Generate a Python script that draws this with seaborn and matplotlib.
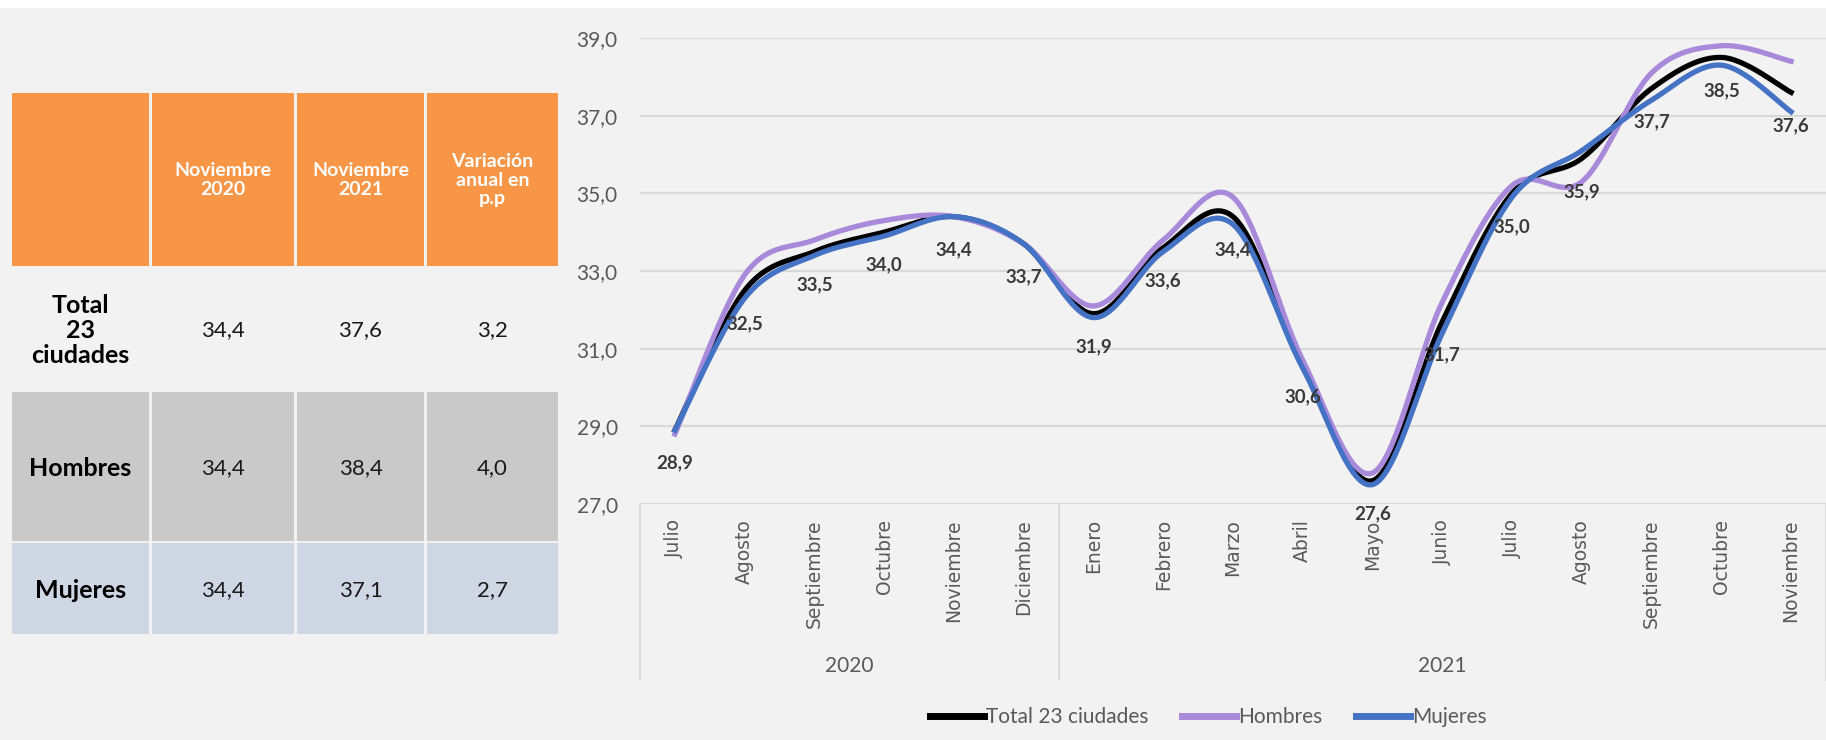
import numpy as np
import pandas as pd
import seaborn as sns
import matplotlib.pyplot as plt
import matplotlib.transforms as mtransforms
from matplotlib.patches import Rectangle
from matplotlib.lines import Line2D

# Datos del gráfico
meses = ["Julio", "Agosto", "Septiembre", "Octubre", "Noviembre", "Diciembre",
         "Enero", "Febrero", "Marzo", "Abril", "Mayo", "Junio", "Julio",
         "Agosto", "Septiembre", "Octubre", "Noviembre"]
anios = ["2020", "2021"]
meses_por_anio = [6, 11]
total = [28.9, 32.5, 33.5, 34.0, 34.4, 33.7, 31.9, 33.6, 34.4, 30.6, 27.6,
         31.7, 35.0, 35.9, 37.7, 38.5, 37.6]
hombres = [28.8, 32.9, 33.8, 34.3, 34.4, 33.7, 32.1, 33.8, 34.9, 30.7, 27.8,
           32.2, 35.2, 35.3, 38.1, 38.8, 38.4]
mujeres = [28.9, 32.3, 33.4, 33.9, 34.4, 33.7, 31.8, 33.5, 34.2, 30.5, 27.5,
           31.4, 34.9, 36.1, 37.4, 38.3, 37.1]
series_nombres = ["Total 23 ciudades", "Hombres", "Mujeres"]
colores = ["#000000", "#A98ADA", "#4472C4"]
y_ticks = [27, 29, 31, 33, 35, 37, 39]

# Datos de la tabla
tabla_columnas = ["Noviembre\n2020", "Noviembre\n2021", "Variación\nanual en\np.p"]
tabla_filas = ["Total\n23\nciudades", "Hombres", "Mujeres"]
tabla_nov2020 = [34.4, 34.4, 34.4]
tabla_nov2021 = [37.6, 38.4, 37.1]
tabla_variacion = [3.2, 4.0, 2.7]

BG = "#F2F2F2"
TXT = "#595959"
FONT = "Lato"


def coma(v):
    return f"{v:.1f}".replace(".", ",")


def suavizar(y, n=30):
    # linea suavizada tipo Excel: Bezier cubica que pasa por cada punto
    x = np.arange(len(y), dtype=float)
    p = np.column_stack([x, np.asarray(y, dtype=float)])
    p_ext = np.vstack([p[0], p, p[-1]])
    t = np.linspace(0, 1, n)[:, None]
    tramos = []
    for i in range(len(p) - 1):
        p0, p1, p2, p3 = p_ext[i], p_ext[i + 1], p_ext[i + 2], p_ext[i + 3]
        c1 = p1 + (p2 - p0) / 6
        c2 = p2 - (p3 - p1) / 6
        seg = (1 - t) ** 3 * p1 + 3 * (1 - t) ** 2 * t * c1 + 3 * (1 - t) * t ** 2 * c2 + t ** 3 * p2
        tramos.append(seg if i == 0 else seg[1:])
    return np.vstack(tramos)


frames = []
for nombre, vals in zip(series_nombres, [total, hombres, mujeres]):
    s = suavizar(vals)
    frames.append(pd.DataFrame({"x": s[:, 0], "y": s[:, 1], "serie": nombre}))
df = pd.concat(frames, ignore_index=True)

W, H = 1826, 740
fig = plt.figure(figsize=(W / 100, H / 100), dpi=100, facecolor=BG)

# ---- tabla (en coordenadas de pixel) ----
axt = fig.add_axes([0, 0, 1, 1])
axt.set_xlim(0, W)
axt.set_ylim(H, 0)
axt.axis("off")
axt.add_patch(Rectangle((0, 0), W, 8, color="white", lw=0))

col_x = [(12, 149), (152, 294), (297, 424), (427, 558)]
fila_y = [(93, 266), (266, 391), (392, 541), (543, 634)]
fila_color = ["#F79646", None, "#C9C9C9", "#CFD7E5"]

for r, (y0, y1) in enumerate(fila_y):
    for c, (x0, x1) in enumerate(col_x):
        if fila_color[r]:
            axt.add_patch(Rectangle((x0, y0), x1 - x0, y1 - y0, color=fila_color[r], lw=0))

for c, txt in enumerate(tabla_columnas):
    x0, x1 = col_x[c + 1]
    axt.text((x0 + x1) / 2, 180, txt, ha="center", va="center", color="white",
             fontsize=14, fontweight="bold", family=FONT, linespacing=1.1)

valores = [tabla_nov2020, tabla_nov2021, tabla_variacion]
for r, nombre in enumerate(tabla_filas):
    y0, y1 = fila_y[r + 1]
    yc = (y0 + y1) / 2 + 2
    axt.text((col_x[0][0] + col_x[0][1]) / 2, yc, nombre, ha="center", va="center",
             fontsize=18, fontweight="bold", family=FONT, color="black", linespacing=1.1)
    for c in range(3):
        x0, x1 = col_x[c + 1]
        axt.text((x0 + x1) / 2, yc, coma(valores[c][r]), ha="center", va="center",
                 fontsize=16, family=FONT, color="#1A1A1A")

# ---- gráfico de líneas ----
ax = fig.add_axes([640 / W, 1 - 504 / H, (W - 640) / W, 466 / H])
ax.set_facecolor(BG)
sns.lineplot(data=df, x="x", y="y", hue="serie", hue_order=series_nombres,
             palette=colores, linewidth=3.8, sort=False, estimator=None,
             legend=False, ax=ax)
ax.set_xlim(-0.5, len(meses) - 0.5)
ax.set_ylim(27, 39)
ax.set_yticks(y_ticks)
ax.set_yticklabels([coma(v) for v in y_ticks], fontsize=15, family=FONT, color=TXT)
ax.set_xticks(range(len(meses)))
ax.set_xticklabels(meses, rotation=90, fontsize=13.5, family="DejaVu Sans", color=TXT,
                   va="top")
ax.tick_params(axis="both", length=0)
ax.tick_params(axis="y", pad=16)
ax.tick_params(axis="x", pad=11)
ax.set_xlabel("")
ax.set_ylabel("")
for sp in ax.spines.values():
    sp.set_visible(False)
ax.grid(axis="y", color="#D9D9D9", linewidth=1.6)
ax.set_axisbelow(True)

# etiquetas de datos (serie total)
for i, v in enumerate(total):
    ax.annotate(coma(v), (i, v), xytext=(0, -33), textcoords="offset pixels",
                ha="center", va="center", fontsize=13.5, fontweight="bold",
                family=FONT, color="#3A3A3A")

# eje de categorías con años
trans = mtransforms.blended_transform_factory(ax.transData, ax.transAxes)
fondo = -(680 - 504) / 466
inicio = -0.5
for anio, n in zip(anios, meses_por_anio):
    ax.plot([inicio, inicio], [0, fondo], transform=trans, color="#D9D9D9",
            lw=1.3, clip_on=False)
    ax.text(inicio + n / 2, -(666 - 504) / 466, anio, transform=trans,
            ha="center", va="center", fontsize=15, family=FONT, color=TXT)
    inicio += n
ax.plot([inicio, inicio], [0, fondo], transform=trans, color="#D9D9D9",
        lw=1.3, clip_on=False)

# leyenda
handles = [Line2D([0], [0], color=c, lw=5) for c in colores]
fig.legend(handles, series_nombres, loc="center", ncol=3,
           bbox_to_anchor=(1208 / W, 1 - 717 / H), frameon=False,
           prop={"family": FONT, "size": 15}, labelcolor=TXT,
           handlelength=2.6, handletextpad=0.1, columnspacing=1.6)

fig.savefig("out.png", dpi=100, facecolor=BG)
